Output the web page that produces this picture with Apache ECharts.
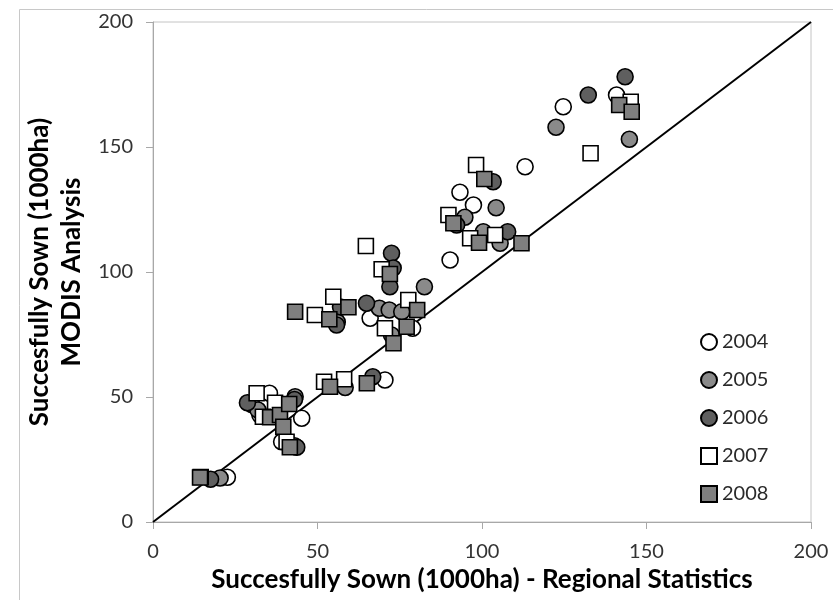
<!DOCTYPE html>
<html><head><meta charset="utf-8">
<script src="https://cdn.jsdelivr.net/npm/echarts@6/dist/echarts.min.js"></script>
<style>html,body{margin:0;padding:0;background:#fff}#c{width:833px;height:600px}</style>
</head><body><div id="c"></div>
<script>
const yearNames = ['2004','2005','2006','2007','2008'];
const xTicks = [0, 50, 100, 150, 200];
const yTicks = [0, 50, 100, 150, 200];
const s2004 = [[22.6,17.9],[39.1,32.1],[35.4,51.5],[32.5,42.8],[45.2,41.5],[66,81.5],[78.9,77.5],[70.5,56.8],[90.3,104.8],[93.3,131.9],[97.4,126.8],[113.1,142.1],[124.7,166.1],[140.9,170.8]];
const s2005 = [[20.4,17.6],[30,47],[31.9,44.8],[43.2,50.1],[43,30.5],[58.4,53.8],[56,80],[68.8,85.5],[71.8,84.8],[75.6,84.1],[72.5,74.8],[82.5,94.1],[94.8,121.9],[100.4,116.1],[104.3,125.7],[105.5,111.5],[122.5,157.9],[144.8,153.1]];
const s2006 = [[17.5,17.1],[28.7,47.7],[43.7,29.9],[43,49],[55.8,78.8],[57,86],[64.9,87.5],[72.5,107.5],[73,101.6],[72,94.1],[66.8,58.1],[92.3,118.8],[103.4,136.1],[107.8,116.1],[132.3,170.8],[143.5,178.1]];
const s2007 = [[14.5,18],[31.5,51.5],[37.1,47.7],[33.4,42.1],[40.6,32.1],[49.2,82.8],[54.8,90.1],[52,56.1],[58.1,57.1],[64.7,110.4],[69.5,101.1],[70.5,77.5],[77.6,88.8],[89.8,122.8],[96.4,113.5],[98.2,142.8],[104,114.8],[133,147.5],[145.2,168.1]];
const s2008 = [[14.3,17.8],[35.6,41.9],[38.6,42.8],[39.6,38.1],[41.4,47.2],[41.6,29.9],[43.2,84.1],[53.6,81.1],[59.4,85.9],[53.8,54.1],[65,55.5],[72,99.2],[73.1,71.5],[77.1,78.1],[80.3,84.8],[91.3,119.5],[99.1,111.7],[100.7,137.2],[112,111.5],[141.7,166.8],[145.5,164.1]];
const oneToOne = [[0,0],[200,200]];

const seriesData = [s2004, s2005, s2006, s2007, s2008];
const fills = ['#ffffff', '#8a8a8a', '#5f5f5f', '#ffffff', '#7f7f7f'];
const shapes = ['circle', 'circle', 'circle', 'rect', 'rect'];
const FONT = 'Lato';

const chart = echarts.init(document.getElementById('c'));
const series = yearNames.map((n, i) => ({
  name: n, type: 'scatter', data: seriesData[i], symbol: shapes[i],
  symbolSize: shapes[i] === 'rect' ? 15 : 16,
  itemStyle: { color: fills[i], borderColor: '#000', borderWidth: 1.6, opacity: 1 },
  emphasis: { disabled: true }, z: 3 + i
}));
series.push({
  name: '1:1', type: 'line', data: oneToOne, symbol: 'none', silent: true,
  lineStyle: { color: '#000', width: 2 }, z: 2
});

chart.setOption({
  animation: false,
  backgroundColor: '#fff',
  graphic: [{ type: 'rect', left: 17, top: 7, shape: { width: 900, height: 700 },
    style: { fill: 'none', stroke: '#c8c8c8', lineWidth: 1 }, z: -10 }],
  grid: { left: 153, right: 22, top: 22, bottom: 78, show: true, borderColor: '#c4c4c4', borderWidth: 1 },
  legend: {
    data: yearNames, orient: 'vertical', left: 695, top: 327, itemGap: 18,
    itemWidth: 16, itemHeight: 16,
    textStyle: { fontFamily: FONT, fontSize: 20, lineHeight: 20, color: '#2a2a2a', padding: [0, 0, 0, 0] }
  },
  xAxis: {
    type: 'value', min: xTicks[0], max: xTicks[xTicks.length - 1], interval: 50,
    name: 'Succesfully Sown (1000ha) - Regional Statistics', nameLocation: 'middle', nameGap: 44,
    nameTextStyle: { fontFamily: FONT, fontSize: 26, fontWeight: 'bold', color: '#000' },
    axisLine: { show: true, lineStyle: { color: '#a8a8a8', width: 1 } },
    axisTick: { show: true, length: 7, lineStyle: { color: '#a8a8a8' } },
    axisLabel: { fontFamily: FONT, fontSize: 20, color: '#333', margin: 20 },
    splitLine: { show: false }
  },
  yAxis: {
    type: 'value', min: yTicks[0], max: yTicks[yTicks.length - 1], interval: 50,
    name: 'Succesfully Sown (1000ha)\nMODIS Analysis', nameLocation: 'middle', nameGap: 62, nameRotate: 90,
    nameTextStyle: { fontFamily: FONT, fontSize: 26, fontWeight: 'bold', color: '#000', lineHeight: 32 },
    axisLine: { show: true, lineStyle: { color: '#a8a8a8', width: 1 } },
    axisTick: { show: true, length: 7, lineStyle: { color: '#a8a8a8' } },
    axisLabel: { fontFamily: FONT, fontSize: 20, color: '#333', margin: 20 },
    splitLine: { show: false }
  },
  series: series
});
</script></body></html>
